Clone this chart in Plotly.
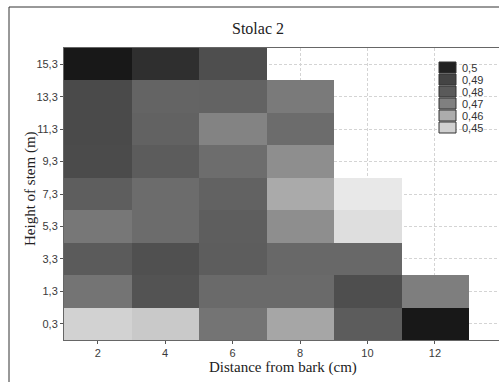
import plotly.graph_objects as go

# Stem wood measurements for tree "Stolac 2"
distance_cm = [2, 4, 6, 8, 10, 12]
height_labels = ["0,3", "1,3", "3,3", "5,3", "7,3", "9,3", "11,3", "13,3", "15,3"]

# rows follow height_labels (bottom to top), columns follow distance_cm
values = [
    [0.4494, 0.4519, 0.4732, 0.4614, 0.4795, 0.5042],   # 0,3
    [0.4732, 0.4832, 0.4758, 0.4758, 0.4855, 0.4705],   # 1,3
    [0.4797, 0.4845, 0.4792, 0.4763, 0.4763, None],     # 3,3
    [0.4724, 0.4753, 0.4789, 0.4668, 0.4456, None],     # 5,3
    [0.4789, 0.4753, 0.4779, 0.4605, 0.4425, None],     # 7,3
    [0.4868, 0.4795, 0.4750, 0.4668, None, None],       # 9,3
    [0.4873, 0.4779, 0.4693, 0.4753, None, None],       # 11,3
    [0.4873, 0.4774, 0.4776, 0.4716, None, None],       # 13,3
    [0.5042, 0.4962, 0.4855, None, None, None],         # 15,3
]

legend_levels = [0.50, 0.49, 0.48, 0.47, 0.46, 0.45]
legend_labels = ["0,5", "0,49", "0,48", "0,47", "0,46", "0,45"]

# grey ramp anchors: value -> grey level
ramp_values = [0.44, 0.45, 0.46, 0.47, 0.48, 0.49, 0.50, 0.51]
ramp_greys = [240, 208, 172, 128, 90, 68, 34, 10]
zmin, zmax = ramp_values[0], ramp_values[-1]


def grey(g):
    g = int(round(g))
    return f"rgb({g},{g},{g})"


colorscale = [[(v - zmin) / (zmax - zmin), grey(g)] for v, g in zip(ramp_values, ramp_greys)]


def level_colour(v):
    for i in range(len(ramp_values) - 1):
        a, b = ramp_values[i], ramp_values[i + 1]
        if a <= v <= b:
            t = (v - a) / (b - a)
            return grey(ramp_greys[i] + t * (ramp_greys[i + 1] - ramp_greys[i]))
    return grey(ramp_greys[-1])


W, H = 499, 382
ML, MR, MT, MB = 64, 0, 48, 42
PW, PH = W - ML - MR, H - MT - MB


def px_x(x):
    return (x - ML) / PW


def px_y(y):
    return (H - MB - y) / PH


fig = go.Figure(
    go.Heatmap(
        x=distance_cm,
        y=height_labels,
        z=values,
        zmin=zmin,
        zmax=zmax,
        colorscale=colorscale,
        showscale=False,
        hoverinfo="skip",
    )
)

sans = "Liberation Sans, Arial, sans-serif"
serif = "Liberation Serif, Times New Roman, serif"
tick_font = dict(family=sans, size=11, color="#3a3a3a")

fig.update_xaxes(
    range=[1, 13.9],
    tickvals=distance_cm,
    ticktext=[str(d) for d in distance_cm],
    tickfont=tick_font,
    ticks="outside",
    ticklen=3,
    tickcolor="#555555",
    showline=True,
    linecolor="#666666",
    linewidth=1,
    mirror=True,
    showgrid=True,
    gridcolor="#d4d4d4",
    griddash="3px,2px",
    zeroline=False,
)
fig.update_yaxes(
    type="category",
    categoryorder="array",
    categoryarray=height_labels,
    range=[-0.5, len(height_labels) - 0.5],
    tickfont=tick_font,
    ticks="outside",
    ticklen=3,
    tickcolor="#555555",
    showline=True,
    linecolor="#666666",
    linewidth=1,
    showgrid=True,
    gridcolor="#d4d4d4",
    griddash="3px,2px",
    zeroline=False,
)

shapes = [
    # outer frame around the whole chart
    dict(type="rect", xref="paper", yref="paper",
         x0=px_x(9), x1=px_x(W + 10), y0=px_y(H + 10), y1=px_y(7),
         line=dict(color="#333333", width=1), fillcolor="rgba(0,0,0,0)", layer="above"),
]
annotations = [
    dict(xref="paper", yref="paper", x=px_x(283), y=px_y(367),
         text="Distance from bark (cm)", showarrow=False,
         xanchor="center", yanchor="middle",
         font=dict(family=serif, size=15, color="#222222")),
    dict(xref="paper", yref="paper", x=px_x(30), y=px_y(189),
         text="Height of stem (m)", showarrow=False, textangle=-90,
         xanchor="center", yanchor="middle",
         font=dict(family=serif, size=15, color="#222222")),
]
for i, (lvl, lab) in enumerate(zip(legend_levels, legend_labels)):
    top = 62 + 12 * i
    shapes.append(dict(type="rect", xref="paper", yref="paper",
                       x0=px_x(439), x1=px_x(456), y0=px_y(top + 11), y1=px_y(top),
                       fillcolor=level_colour(lvl), line=dict(color="#333333", width=1),
                       layer="above"))
    annotations.append(dict(xref="paper", yref="paper", x=px_x(460), y=px_y(top + 5.5),
                            text=lab, showarrow=False, xanchor="left", yanchor="middle",
                            font=dict(family=sans, size=11, color="#333333")))

fig.update_layout(
    width=W,
    height=H,
    margin=dict(l=ML, r=MR, t=MT, b=MB),
    paper_bgcolor="white",
    plot_bgcolor="white",
    title=dict(text="Stolac 2", x=258 / W, xanchor="center", y=1 - 28 / H, yanchor="middle",
               font=dict(family=serif, size=16, color="#222222")),
    shapes=shapes,
    annotations=annotations,
)

fig.write_html("out.html")
